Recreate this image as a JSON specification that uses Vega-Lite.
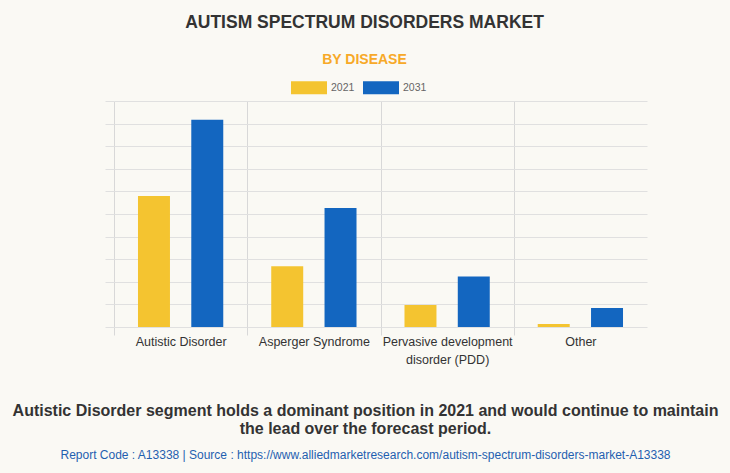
{
  "$schema": "https://vega.github.io/schema/vega-lite/v6.json",
  "width": 533,
  "height": 226,
  "autosize": {"type": "none"},
  "padding": {"left": 114, "top": 101, "right": 83, "bottom": 146},
  "background": "#FAF9F4",
  "title": {
    "text": "AUTISM SPECTRUM DISORDERS MARKET",
    "subtitle": "BY DISEASE",
    "anchor": "middle",
    "dx": -16,
    "offset": 3,
    "font": "Liberation Sans",
    "fontSize": 17.5,
    "fontWeight": "bold",
    "color": "#333333",
    "subtitleFont": "Liberation Sans",
    "subtitleFontSize": 14,
    "subtitleFontWeight": "bold",
    "subtitleColor": "#F7A928",
    "subtitlePadding": 21
  },
  "data": {
    "values": [
      {"segment": "Autistic Disorder", "year": "2021", "value": 5.8},
      {"segment": "Autistic Disorder", "year": "2031", "value": 9.17},
      {"segment": "Asperger Syndrome", "year": "2021", "value": 2.69},
      {"segment": "Asperger Syndrome", "year": "2031", "value": 5.27},
      {"segment": "Pervasive development disorder (PDD)", "year": "2021", "value": 0.97},
      {"segment": "Pervasive development disorder (PDD)", "year": "2031", "value": 2.24},
      {"segment": "Other", "year": "2021", "value": 0.13},
      {"segment": "Other", "year": "2031", "value": 0.84}
    ]
  },
  "mark": {"type": "bar"},
  "encoding": {
    "x": {
      "field": "segment",
      "type": "nominal",
      "sort": ["Autistic Disorder", "Asperger Syndrome", "Pervasive development disorder (PDD)", "Other"],
      "scale": {"paddingInner": 0, "paddingOuter": 0},
      "axis": {
        "title": ["Autistic Disorder segment holds a dominant position in 2021 and would continue to maintain", "the lead over the forecast period."],
        "titleX": 251,
        "titleY": 88,
        "titleAlign": "center",
        "titleAnchor": null,
        "titleBaseline": "alphabetic",
        "titleFont": "Liberation Sans",
        "titleFontSize": 16,
        "titleFontWeight": "bold",
        "titleColor": "#333333",
        "titleLineHeight": 18.5,
        "titleLimit": 1000,
        "labelExpr": "datum.value == 'Pervasive development disorder (PDD)' ? ['Pervasive development', 'disorder (PDD)'] : datum.value",
        "labelAngle": 0,
        "labelFont": "Liberation Sans",
        "labelFontSize": 12.5,
        "labelColor": "#333333",
        "labelLineHeight": 18,
        "labelPadding": 0,
        "tickBand": "extent",
        "ticks": true,
        "tickSize": 8,
        "tickColor": {"condition": {"test": "datum.value === 'Other'", "value": "transparent"}, "value": "#D8D8D8"},
        "grid": true,
        "gridColor": {"condition": {"test": "datum.value === 'Other'", "value": "transparent"}, "value": "#D8D8D8"},
        "domain": false
      }
    },
    "xOffset": {
      "field": "year",
      "type": "nominal",
      "scale": {"paddingInner": 0.4, "paddingOuter": 0.45}
    },
    "y": {
      "field": "value",
      "type": "quantitative",
      "scale": {"domain": [0, 10], "nice": false},
      "axis": {
        "values": [0, 1, 2, 3, 4, 5, 6, 7, 8, 9, 10],
        "labels": false,
        "ticks": true,
        "tickSize": 9,
        "tickColor": "#E0E0E0",
        "grid": true,
        "gridColor": "#E0E0E0",
        "domain": false,
        "title": "Report Code : A13338  |  Source : https://www.alliedmarketresearch.com/autism-spectrum-disorders-market-A13338",
        "titleAngle": 0,
        "titleX": 251,
        "titleY": 357,
        "titleAlign": "center",
        "titleAnchor": null,
        "titleBaseline": "alphabetic",
        "titleFont": "Liberation Sans",
        "titleFontSize": 12,
        "titleFontWeight": "normal",
        "titleColor": "#1F5FB0",
        "titleLimit": 1000
      }
    },
    "color": {
      "field": "year",
      "type": "nominal",
      "scale": {"domain": ["2021", "2031"], "range": ["#F4C430", "#1366C0"]},
      "legend": {
        "title": null,
        "orient": "none",
        "direction": "horizontal",
        "legendX": 177,
        "legendY": -31.5,
        "padding": 0,
        "symbolType": "M-1,-0.36H1V0.36H-1Z",
        "symbolSize": 1296,
        "symbolStrokeWidth": 0,
        "labelFont": "Liberation Sans",
        "labelFontSize": 10.5,
        "labelColor": "#666666",
        "labelOffset": 4,
        "columnPadding": 8
      }
    }
  },
  "config": {"view": {"stroke": null}}
}
